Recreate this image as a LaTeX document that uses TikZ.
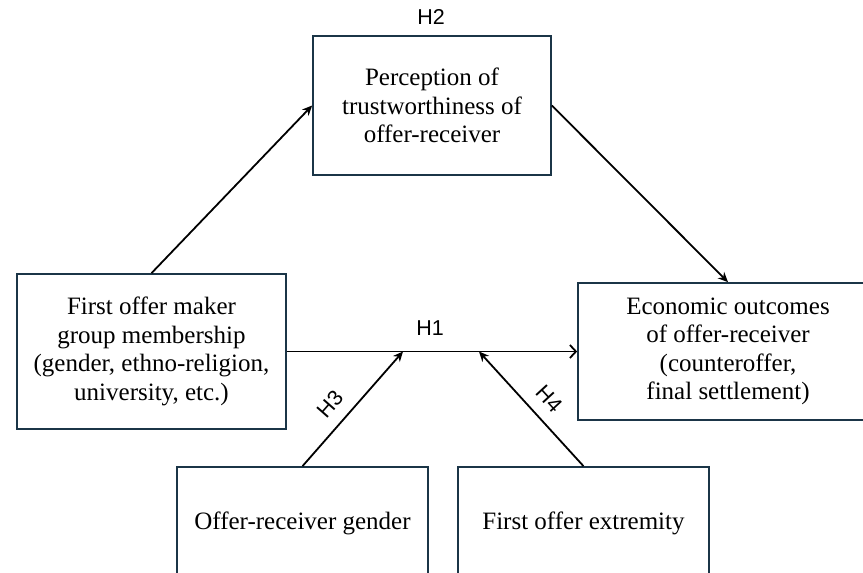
\documentclass[tikz,border=0pt]{standalone}
\usepackage{fontspec}
\setmainfont{Liberation Serif}
\newfontfamily\labelfont{Liberation Sans}
\usetikzlibrary{arrows.meta}
\definecolor{boxline}{HTML}{1B3547}
\tikzset{
  varbox/.style={draw=boxline, line width=1.7pt, fill=white, align=center,
    inner sep=0pt, font=\fontsize{25}{28.5}\selectfont},
  link/.style={line width=1.8pt, -{Stealth[length=10pt,width=9pt]}},
  mainlink/.style={line width=1.8pt, -{Straight Barb[length=6pt,width=13pt,line width=1.8pt]}},
  hyp/.style={font=\labelfont\fontsize{21.5}{23}\selectfont, inner sep=0pt}
}
\begin{document}
\begin{tikzpicture}[x=1pt,y=-1pt]
  \clip (0,0) rectangle (863,573);
  \fill[white] (0,0) rectangle (863,573);

  % variable boxes
  \node[varbox, minimum width=238pt, minimum height=139pt] (trust) at (432,105.5)
    {Perception of\\trustworthiness of\\offer-receiver};
  \node[varbox, minimum width=269pt, minimum height=155pt] (maker) at (151.5,351.5)
    {First offer maker\\group membership\\(gender, ethno-religion,\\university, etc.)};
  \node[varbox, minimum width=300pt, minimum height=137pt] (outcome) at (728,351.5)
    {Economic outcomes\\of offer-receiver\\(counteroffer,\\final settlement)};
  \node[varbox, minimum width=251pt, minimum height=112pt] (gender) at (302.5,523)
    {Offer-receiver gender};
  \node[varbox, minimum width=251pt, minimum height=112pt] (extreme) at (583.5,523)
    {First offer extremity};

  % moderator meeting points on the main path
  \coordinate (m3) at (403,351.5);
  \coordinate (m4) at (479,351.5);

  % paths
  \draw[link] (maker.north) -- (trust.west);
  \draw[link] (trust.east) -- (outcome.north);
  \draw[mainlink] (maker.east) -- (outcome.west);
  \draw[link] (gender.north) -- (m3);
  \draw[link] (extreme.north) -- (m4);

  % hypothesis labels
  \node[hyp] (h2) at (431,17) {H2};
  \node[hyp] (h1) at (430,328) {H1};
  \node[hyp, rotate=48.7] (h3) at (330,404) {H3};
  \node[hyp, rotate=-47.4] (h4) at (549,399) {H4};
\end{tikzpicture}
\end{document}
